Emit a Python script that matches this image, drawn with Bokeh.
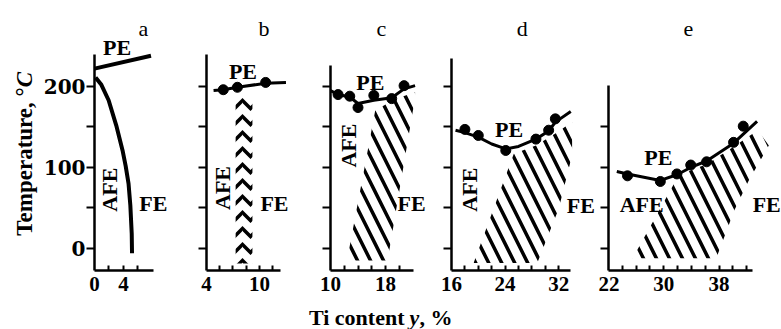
import math
from bokeh.plotting import figure
from bokeh.layouts import row, column
from bokeh.models import Range1d, FixedTicker, LinearAxis
from bokeh.core.properties import value
from bokeh.embed import file_html
from bokeh.resources import INLINE

# ---------------- data (Ti content y, %  /  Temperature, °C) ----------------
# panel a
a_pe_x = [0.0, 7.8]
a_pe_t = [222, 238]
a_fe_x = [0.15, 0.95, 1.95, 3.0, 3.9, 4.3, 4.7, 4.95, 5.14, 5.18]
a_fe_t = [211, 202, 183, 152, 120, 102, 80, 53, 18, -6]
# panel b
b_pts_x = [5.9, 7.5, 10.7]
b_pts_t = [196, 199, 205]
b_line_x = [4.8, 5.9, 7.5, 10.7, 13.0]
b_line_t = [195, 196, 199, 204, 205]
b_band_x = [7.3, 9.2]
b_band_t = [-18.5, 189]
# panel c
c_pts_x = [11.1, 12.8, 14.0, 16.3, 18.9, 20.7]
c_pts_t = [190, 188, 174, 189, 185, 201]
c_line_x = [10.0, 11.1, 12.8, 14.0, 16.3, 18.9, 20.7, 22.3]
c_line_t = [195, 190, 187, 179, 183, 186, 197, 201]
c_hatch_x = [12.4, 16.5, 19.2, 22.3, 22.3, 18.3]
c_hatch_t = [-15, 170, 184, 193, 186, -15]
# panel d
d_pts_x = [18.0, 20.0, 24.1, 28.6, 30.5, 31.5]
d_pts_t = [147, 139.5, 121, 135, 146, 160]
d_line_x = [16.6, 18.0, 20.0, 22.0, 24.1, 26.0, 28.6, 30.5, 31.5, 33.8]
d_line_t = [146, 143, 137.5, 129, 123, 126, 135, 145, 156, 169]
d_hatch_x = [19.3, 25.3, 28.6, 31.5, 34.0, 34.0, 32.0, 28.8]
d_hatch_t = [-18, 117, 127, 142, 156, 115, 49, -18]
# panel e
e_pts_x = [24.75, 29.5, 31.9, 33.9, 36.2, 40.1, 41.5]
e_pts_t = [89.7, 82.7, 92, 103, 107, 131, 151]
e_line_x = [23.2, 24.75, 29.5, 31.9, 33.9, 36.2, 40.1, 43.5]
e_line_t = [95, 92, 84, 91, 100, 108, 130, 157]
e_hatch_x = [25.5, 32.0, 34.0, 36.2, 40.0, 43.6, 45.2, 42.3, 40.2, 37.6]
e_hatch_t = [-12, 88, 97, 104, 125, 146, 127, 84, 47, -12]

# tick labels / tick marks
a_xlabels, a_xticks = [0, 4], [2, 4, 6]
b_xlabels, b_xticks = [4, 10], [5.5, 7, 8.5, 10, 11.5]
c_xlabels, c_xticks = [10, 18], [12, 14, 16, 18, 20]
d_xlabels, d_xticks = [16, 24, 32], [18, 20, 22, 24, 26, 28, 30, 32]
e_xlabels, e_xticks = [22, 30, 38], [24, 26, 28, 30, 32, 34, 36, 38, 40, 42]
t_labels = [0, 100, 200]
t_minor = [50, 150]

panel_letters = ["a", "b", "c", "d", "e"]

# ---------------- layout / style ----------------
SERIF = "Liberation Serif"
T_RANGE = (-27.2, 293.8)
ROW_H = 305
LETTER_T = 271.5


def make_panel(width, border_left, x_start, x_end, x_axis_end, t_axis_end,
               xlabels, xticks, first=False, t_ticks=None):
    p = figure(width=width, height=ROW_H,
               x_range=Range1d(x_start, x_end), y_range=Range1d(*T_RANGE),
               x_axis_type=None, y_axis_type=None,
               toolbar_location=None, output_backend="svg",
               min_border_left=border_left, min_border_right=0,
               min_border_top=10, min_border_bottom=35,
               outline_line_color=None)
    xa = LinearAxis(ticker=FixedTicker(ticks=xlabels, minor_ticks=xticks),
                    bounds=(x_start, x_axis_end))
    xa.axis_line_width = 2.5
    xa.axis_line_color = "black"
    xa.major_tick_in = 0
    xa.major_tick_out = 0
    xa.minor_tick_in = 5
    xa.minor_tick_out = 0
    xa.minor_tick_line_width = 2
    xa.minor_tick_line_color = "black"
    xa.major_label_text_font = SERIF
    xa.major_label_text_font_style = "bold"
    xa.major_label_text_font_size = "21px"
    xa.major_label_text_color = "black"
    xa.major_label_standoff = 6
    p.add_layout(xa, "below")

    if first:
        ticker = FixedTicker(ticks=t_labels, minor_ticks=t_minor)
    else:
        ticker = FixedTicker(ticks=[], minor_ticks=t_ticks)
    ya = LinearAxis(ticker=ticker, bounds=(T_RANGE[0], t_axis_end))
    ya.axis_line_width = 2.5
    ya.axis_line_color = "black"
    ya.major_tick_in = 0
    ya.major_tick_out = 8
    ya.minor_tick_in = 0
    ya.minor_tick_out = 8
    ya.major_tick_line_width = 2
    ya.minor_tick_line_width = 2
    ya.major_tick_line_color = "black"
    ya.minor_tick_line_color = "black"
    ya.major_label_text_font = "DejaVu Serif"
    ya.major_label_text_font_style = "bold"
    ya.major_label_text_font_size = "20px"
    ya.major_label_text_color = "black"
    ya.major_label_standoff = 1
    p.add_layout(ya, "left")
    return p


def label(p, x, t, txt, angle=0.0, size="22px", style="bold", align="center",
          baseline="middle"):
    p.text(x=[x], y=[t], text=[txt], angle=angle, text_align=align,
           text_baseline=baseline, text_font=value(SERIF),
           text_font_style=style, text_font_size=size, text_color="black")


HATCH = dict(fill_color=None, line_color=None, hatch_pattern="\\",
             hatch_color="black", hatch_weight=3.5, hatch_scale=26)

# panel a : frame 93..178
pa = make_panel(138, 53, 0, 85 / 7.33, 8.2, 240, a_xlabels, a_xticks, first=True)
pa.line(a_pe_x, a_pe_t, line_width=4, color="black")
pa.line(a_fe_x, a_fe_t, line_width=4, color="black", line_join="round")
label(pa, 3.11, 248.5, "PE")
label(pa, 2.09, 72.6, "AFE", angle=math.pi / 2)
label(pa, 8.12, 55.2, "FE")
label(pa, 6.75, LETTER_T, panel_letters[0], style="normal")

# panel b : frame 206..298
pb = make_panel(120, 28, 4, 4 + 92 / 8.83, 12.38, 240, b_xlabels, b_xticks,
                t_ticks=[0, 50, 100, 150, 200])
pb.quad(left=[b_band_x[0]], right=[b_band_x[1]], bottom=[b_band_t[0]], top=[b_band_t[1]],
        fill_color=None, line_color=None, hatch_pattern="horizontal_wave",
        hatch_color="black", hatch_weight=3.5, hatch_scale=16)
pb.line(b_line_x, b_line_t, line_width=3, color="black")
pb.scatter(b_pts_x, b_pts_t, size=10, color="black")
label(pb, 8.13, 219, "PE")
label(pb, 5.78, 74.7, "AFE", angle=math.pi / 2)
label(pb, 11.7, 56, "FE")
label(pb, 10.5, LETTER_T, panel_letters[1], style="normal")

# panel c : frame 330..428
pc = make_panel(130, 32, 10, 10 + 98 / 6.875, 22.1, 226, c_xlabels, c_xticks,
                t_ticks=[0, 50, 100, 150, 200])
pc.patch(c_hatch_x, c_hatch_t, **HATCH)
pc.line(c_line_x, c_line_t, line_width=3, color="black", line_join="round")
pc.scatter(c_pts_x, c_pts_t, size=10, color="black")
label(pc, 15.8, 205, "PE")
label(pc, 12.55, 127, "AFE", angle=math.pi / 2)
label(pc, 21.8, 56, "FE")
label(pc, 17.4, LETTER_T, panel_letters[2], style="normal")

# panel d : frame 451..598
pd_ = make_panel(170, 23, 16, 16 + 147 / 6.7, 33.76, 234, d_xlabels, d_xticks,
                 t_ticks=[0, 50, 100, 150, 200])
pd_.patch(d_hatch_x, d_hatch_t, **HATCH)
pd_.line(d_line_x, d_line_t, line_width=3, color="black", line_join="round")
pd_.scatter(d_pts_x, d_pts_t, size=10, color="black")
label(pd_, 24.6, 146.5, "PE")
label(pd_, 18.7, 72.6, "AFE", angle=math.pi / 2)
label(pd_, 35.3, 53, "FE")
label(pd_, 26.55, LETTER_T, panel_letters[3], style="normal")

# panel e : frame 608..781
pe = make_panel(183, 10, 22, 22 + 173 / 6.91, 42.9, 201, e_xlabels, e_xticks,
                t_ticks=[0, 50, 100, 150])
pe.patch(e_hatch_x, e_hatch_t, **HATCH)
pe.line(e_line_x, e_line_t, line_width=3, color="black", line_join="round")
pe.scatter(e_pts_x, e_pts_t, size=10, color="black")
label(pe, 29.2, 112.7, "PE")
label(pe, 26.8, 54, "AFE")
label(pe, 44.9, 54, "FE")
label(pe, 33.55, LETTER_T, panel_letters[4], style="normal")

# y-axis title (separate narrow strip)
py_ = figure(width=40, height=ROW_H, x_range=Range1d(0, 40), y_range=Range1d(ROW_H, 0),
             x_axis_type=None, y_axis_type=None, toolbar_location=None,
             output_backend="svg", min_border=0, outline_line_color=None)
label(py_, 23.5, 90, "Temperature, °", angle=math.pi / 2, size="23px", align="right")
label(py_, 23.5, 90, "C", angle=math.pi / 2, size="23px", style="bold italic", align="left")

# x-axis title (strip below)
px_ = figure(width=781, height=329 - ROW_H, x_range=Range1d(0, 781),
             y_range=Range1d(329 - ROW_H, 0), x_axis_type=None, y_axis_type=None,
             toolbar_location=None, output_backend="svg", min_border=0,
             outline_line_color=None)
label(px_, 404, 12, "Ti content", size="22px", align="right")
label(px_, 409, 12, "y", size="22px", style="bold italic", align="left")
label(px_, 419, 12, ", %", size="22px", align="left")

layout = column(row(py_, pa, pb, pc, pd_, pe), px_)

with open("out.html", "w") as f:
    f.write(file_html(layout, INLINE))
